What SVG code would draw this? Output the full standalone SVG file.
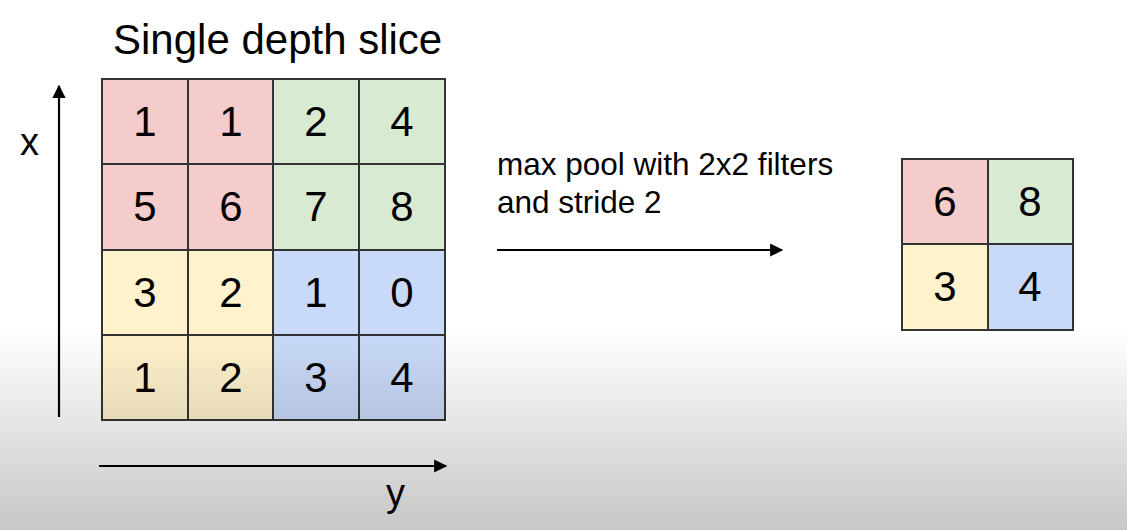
<svg xmlns="http://www.w3.org/2000/svg" width="1127" height="530" viewBox="0 0 1127 530">
<defs>
<style>
text{font-family:"Liberation Sans",Arial,sans-serif;fill:#000}
.num{font-size:42px;text-anchor:middle}
.cell{stroke:#333;stroke-width:2}
.r{fill:#f4cccc}.g{fill:#d9ead3}.yl{fill:#fff2cc}.b{fill:#c9daf8}
.ax{stroke:#000;stroke-width:2.2;fill:none}
</style>
<marker id="ah" viewBox="0 0 10 10" refX="9" refY="5" markerWidth="7" markerHeight="6" markerUnits="strokeWidth" orient="auto">
<path d="M0,0 L10,5 L0,10 z" fill="#000"/>
</marker>
<linearGradient id="shade" x1="0" y1="0" x2="0" y2="1">
<stop offset="0" stop-color="#000" stop-opacity="0"/>
<stop offset="1" stop-color="#000" stop-opacity="0.22"/>
</linearGradient>
</defs>
<rect width="1127" height="530" fill="#fff"/>
<text id="title" x="113" y="54" font-size="42">Single depth slice</text>
<g id="input-grid">
<rect class="cell r" x="102" y="79" width="86" height="85"/>
<rect class="cell r" x="188" y="79" width="85" height="85"/>
<rect class="cell g" x="273" y="79" width="86" height="85"/>
<rect class="cell g" x="359" y="79" width="86" height="85"/>
<rect class="cell r" x="102" y="164" width="86" height="86"/>
<rect class="cell r" x="188" y="164" width="85" height="86"/>
<rect class="cell g" x="273" y="164" width="86" height="86"/>
<rect class="cell g" x="359" y="164" width="86" height="86"/>
<rect class="cell yl" x="102" y="250" width="86" height="85"/>
<rect class="cell yl" x="188" y="250" width="85" height="85"/>
<rect class="cell b" x="273" y="250" width="86" height="85"/>
<rect class="cell b" x="359" y="250" width="86" height="85"/>
<rect class="cell yl" x="102" y="335" width="86" height="85"/>
<rect class="cell yl" x="188" y="335" width="85" height="85"/>
<rect class="cell b" x="273" y="335" width="86" height="85"/>
<rect class="cell b" x="359" y="335" width="86" height="85"/>
<text class="num" x="145" y="136">1</text>
<text class="num" x="231" y="136">1</text>
<text class="num" x="316" y="136">2</text>
<text class="num" x="402" y="136">4</text>
<text class="num" x="145" y="221">5</text>
<text class="num" x="231" y="221">6</text>
<text class="num" x="316" y="221">7</text>
<text class="num" x="402" y="221">8</text>
<text class="num" x="145" y="307">3</text>
<text class="num" x="231" y="307">2</text>
<text class="num" x="316" y="307">1</text>
<text class="num" x="402" y="307">0</text>
<text class="num" x="145" y="392">1</text>
<text class="num" x="231" y="392">2</text>
<text class="num" x="316" y="392">3</text>
<text class="num" x="402" y="392">4</text>
</g>
<g id="output-grid">
<rect class="cell r" x="902" y="159" width="86" height="85"/>
<rect class="cell g" x="988" y="159" width="85" height="85"/>
<rect class="cell yl" x="902" y="244" width="86" height="86"/>
<rect class="cell b" x="988" y="244" width="85" height="86"/>
<text class="num" x="945" y="216">6</text>
<text class="num" x="1030" y="216">8</text>
<text class="num" x="945" y="301">3</text>
<text class="num" x="1030" y="301">4</text>
</g>
<g id="labels">
<text x="497" y="175" font-size="31.5">max pool with 2x2 filters</text>
<text x="497" y="213" font-size="31.5">and stride 2</text>
<text x="20" y="155" font-size="38">x</text>
<text x="386" y="506" font-size="38">y</text>
</g>
<g id="connectors">
<line class="ax" x1="59" y1="417" x2="59" y2="86" marker-end="url(#ah)"/>
<line class="ax" x1="99" y1="466" x2="446" y2="466" marker-end="url(#ah)"/>
<line class="ax" x1="497" y1="250" x2="782" y2="250" marker-end="url(#ah)"/>
</g>
<rect x="0" y="330" width="1127" height="200" fill="url(#shade)" pointer-events="none"/>
</svg>
